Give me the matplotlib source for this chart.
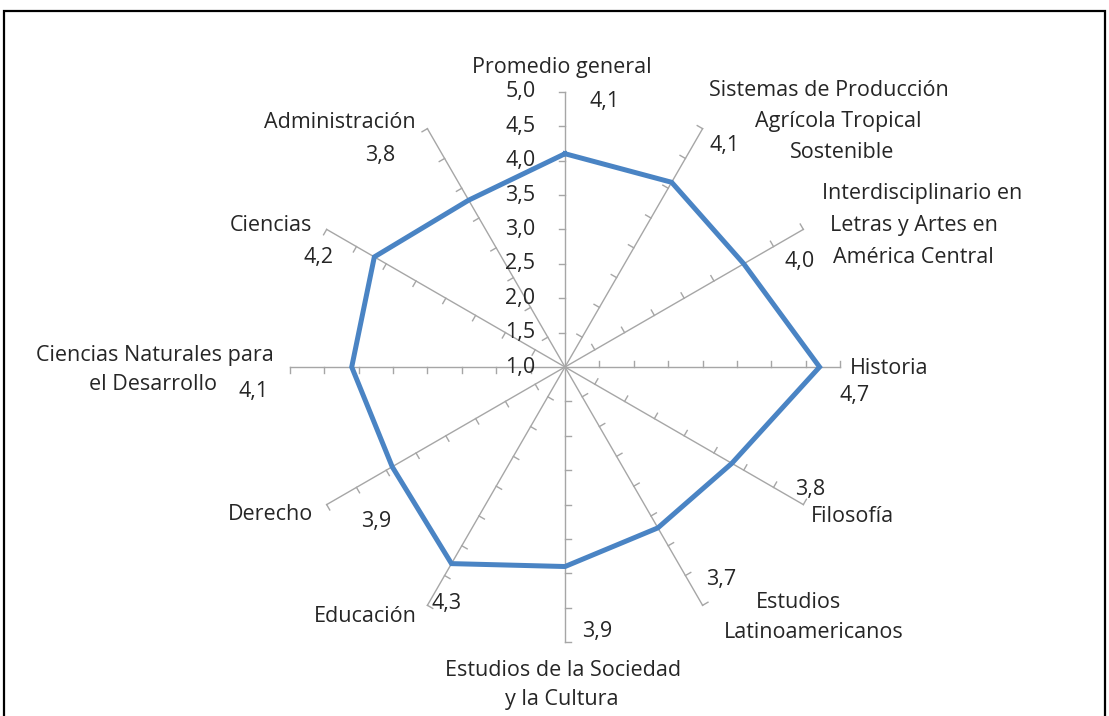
import numpy as np
import matplotlib.pyplot as plt
from matplotlib.patches import Rectangle

plt.rcParams['font.family'] = ['Open Sans', 'DejaVu Sans']

categorias = ['Promedio general',
              'Sistemas de Producción\nAgrícola Tropical\nSostenible',
              'Interdisciplinario en\nLetras y Artes en\nAmérica Central',
              'Historia',
              'Filosofía',
              'Estudios\nLatinoamericanos',
              'Estudios de la Sociedad\ny la Cultura',
              'Educación',
              'Derecho',
              'Ciencias Naturales para\nel Desarrollo',
              'Ciencias',
              'Administración']
valores = [4.1, 4.1, 4.0, 4.7, 3.8, 3.7, 3.9, 4.3, 3.9, 4.1, 4.2, 3.8]
escala = [1.0, 1.5, 2.0, 2.5, 3.0, 3.5, 4.0, 4.5, 5.0]

# posiciones (pixeles de la imagen) de cada renglon de las etiquetas
pos_cat = [[(562, 68)],
           [(829, 90), (838, 121), (842, 152)],
           [(922, 194), (914, 226), (913, 257)],
           [(889, 368)],
           [(852, 516)],
           [(798, 602), (814, 632)],
           [(563, 670), (562, 700)],
           [(365, 616)],
           [(271, 514)],
           [(155, 355), (153, 385)],
           [(271, 226)],
           [(340, 122)]]
pos_val = [(605, 101), (725, 145), (800, 262), (855, 395), (810, 490), (721, 580),
           (597, 632), (447, 604), (376, 522), (254, 391), (319, 257), (380, 155)]

W, H = 1109, 716
cx, cy = 565, 367
k = 68.8  # pixeles por unidad
fs = 15.5

fig = plt.figure(figsize=(W / 100, H / 100), dpi=100)
ax = fig.add_axes([0, 0, 1, 1])
ax.set_xlim(-cx / k, (W - cx) / k)
ax.set_ylim(-(H - cy) / k, cy / k)
ax.axis('off')

n = len(valores)
theta = 2 * np.pi * np.arange(n) / n
rmin, rmax = escala[0], escala[-1]
gris = '#a6a6a6'
L = 0.09

for t in theta:
    u = np.array([np.sin(t), np.cos(t)])
    perp = np.array([-np.cos(t), np.sin(t)])
    ax.plot([0, u[0] * (rmax - rmin)], [0, u[1] * (rmax - rmin)], color=gris, lw=1.0, zorder=1)
    for s in escala[1:]:
        p = u * (s - rmin)
        q = p + perp * L
        ax.plot([p[0], q[0]], [p[1], q[1]], color=gris, lw=1.0, zorder=1)

r = np.array(valores) - rmin
xs = r * np.sin(theta)
ys = r * np.cos(theta)
ax.plot(np.append(xs, xs[0]), np.append(ys, ys[0]), color='#4a84c4', lw=3.6,
        solid_joinstyle='miter', zorder=3)

for s in escala:
    ax.text(-0.43, s - rmin, f'{s:.1f}'.replace('.', ','), ha='right', va='center',
            fontsize=fs, color='#262626')

for nombre, posiciones in zip(categorias, pos_cat):
    for renglon, (px, py) in zip(nombre.split('\n'), posiciones):
        fig.text(px / W, 1 - py / H, renglon, ha='center', va='center', fontsize=fs,
                 color='#262626')
for v, (px, py) in zip(valores, pos_val):
    fig.text(px / W, 1 - py / H, f'{v:.1f}'.replace('.', ','), ha='center', va='center',
             fontsize=fs, color='#262626')

fig.add_artist(Rectangle((4 / W, -0.02), 1101 / W, 1.02 - 11 / H, transform=fig.transFigure,
                         fill=False, ec='black', lw=1.6))

fig.savefig('out.png', dpi=100)
